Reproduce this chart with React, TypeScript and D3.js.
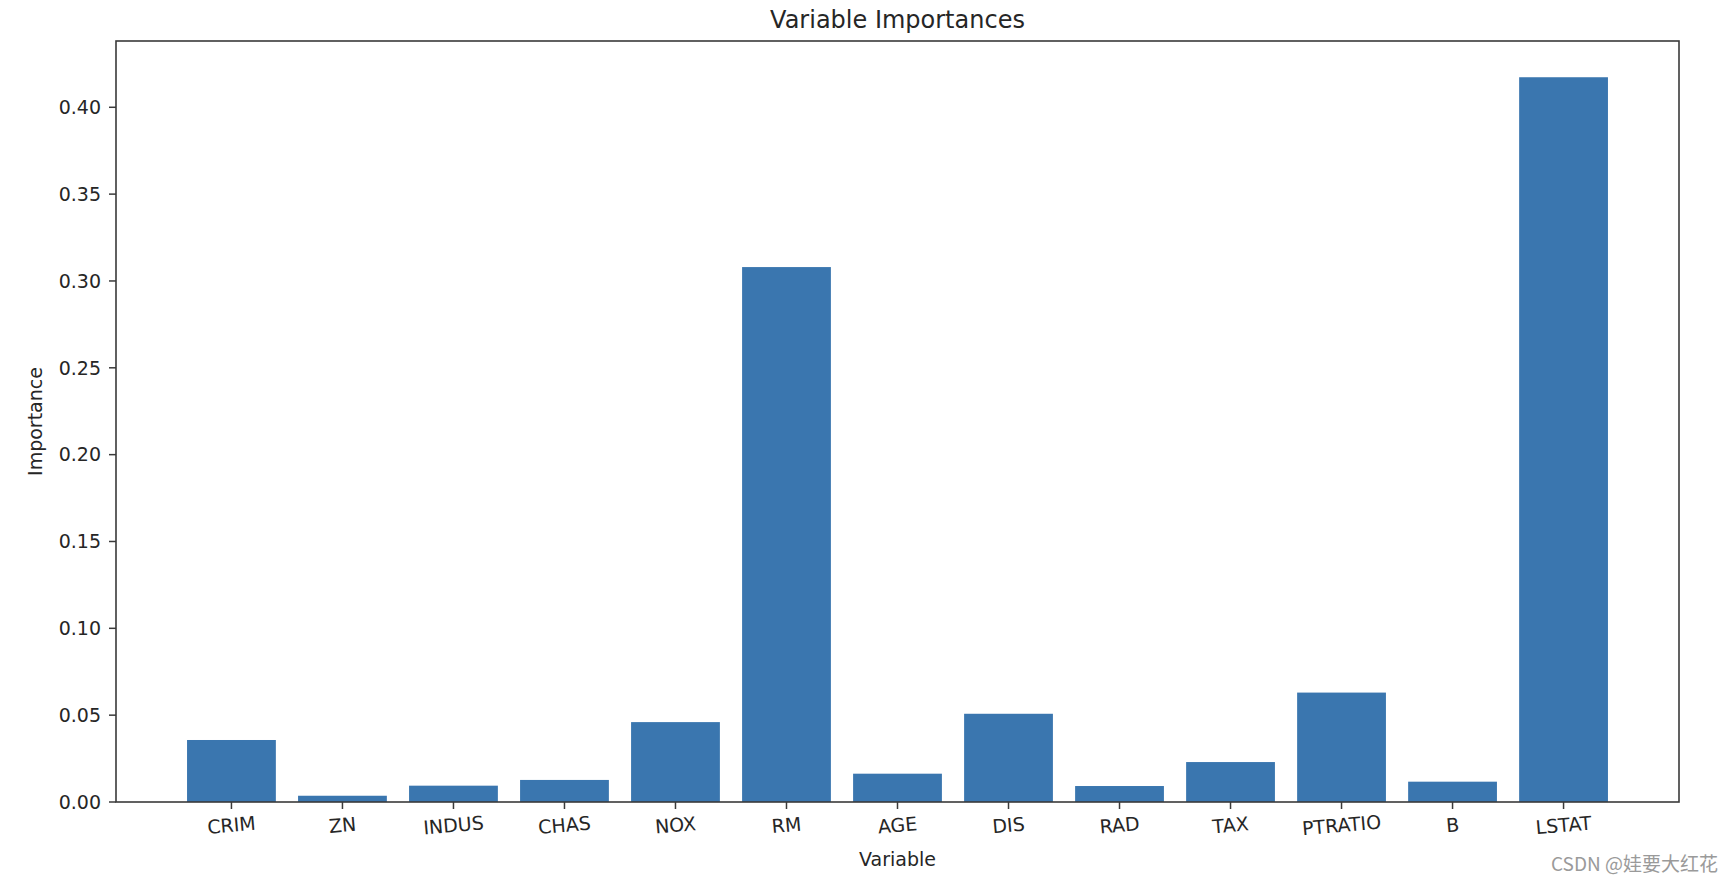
import React from "react";
import * as d3 from "d3";

const categories = ["CRIM", "ZN", "INDUS", "CHAS", "NOX", "RM", "AGE", "DIS", "RAD", "TAX", "PTRATIO", "B", "LSTAT"];
const importances = [0.0357, 0.0036, 0.0094, 0.0127, 0.046, 0.308, 0.0163, 0.0508, 0.0092, 0.023, 0.063, 0.0117, 0.4173];
const yTicks = [0, 0.05, 0.1, 0.15, 0.2, 0.25, 0.3, 0.35, 0.4];

const W = 1734;
const H = 884;
const left = 116;
const right = 1679;
const top = 41;
const bottom = 802;
const FONT = "'DejaVu Sans', sans-serif";
const BAR = "#3A76AF";
const AX = "#3a3a3a";

export default function App() {
  const x = d3.scaleBand<string>().domain(categories).range([left, right]).paddingInner(0.2).paddingOuter(0.64);
  const yMax = (d3.max(importances) as number) * 1.05;
  const y = d3.scaleLinear().domain([0, yMax]).range([bottom, top]);
  const fmt = d3.format(".2f");
  const labelY = 825;

  return (
    <svg width={W} height={H} style={{ position: "absolute", left: 0, top: 0, background: "#fff" }}>
      <rect x={0} y={0} width={W} height={H} fill="#fff" />
      {categories.map((c, i) => (
        <rect key={c} x={x(c)} y={y(importances[i])} width={x.bandwidth()} height={y(0) - y(importances[i])} fill={BAR} />
      ))}
      <rect x={left} y={top} width={right - left} height={bottom - top} fill="none" stroke={AX} strokeWidth={1.6} />
      {yTicks.map((t) => (
        <g key={t}>
          <line x1={left - 7} x2={left} y1={y(t)} y2={y(t)} stroke={AX} strokeWidth={1.5} />
          <text x={left - 15} y={y(t)} dy="0.36em" textAnchor="end" fontFamily={FONT} fontSize={19} fill="#262626">
            {fmt(t)}
          </text>
        </g>
      ))}
      {categories.map((c) => {
        const cx = (x(c) as number) + x.bandwidth() / 2;
        return (
          <g key={c}>
            <line x1={cx} x2={cx} y1={bottom} y2={bottom + 7} stroke={AX} strokeWidth={1.5} />
            <text
              x={cx}
              y={labelY}
              dy="0.36em"
              textAnchor="middle"
              fontFamily={FONT}
              fontSize={19}
              fill="#262626"
              transform={`rotate(-5, ${cx}, ${labelY})`}
            >
              {c}
            </text>
          </g>
        );
      })}
      <text x={(left + right) / 2} y={28} textAnchor="middle" fontFamily={FONT} fontSize={24} fill="#262626">
        Variable Importances
      </text>
      <text x={(left + right) / 2} y={866} textAnchor="middle" fontFamily={FONT} fontSize={19} fill="#262626">
        Variable
      </text>
      <text transform={`translate(42, ${(top + bottom) / 2}) rotate(-90)`} textAnchor="middle" fontFamily={FONT} fontSize={19} fill="#262626">
        Importance
      </text>
      <text x={1718} y={871} textAnchor="end" fontFamily="'Noto Sans CJK SC', 'Noto Sans', sans-serif" fontSize={19} fill="#9a9a9a">
        CSDN @娃要大红花
      </text>
    </svg>
  );
}
